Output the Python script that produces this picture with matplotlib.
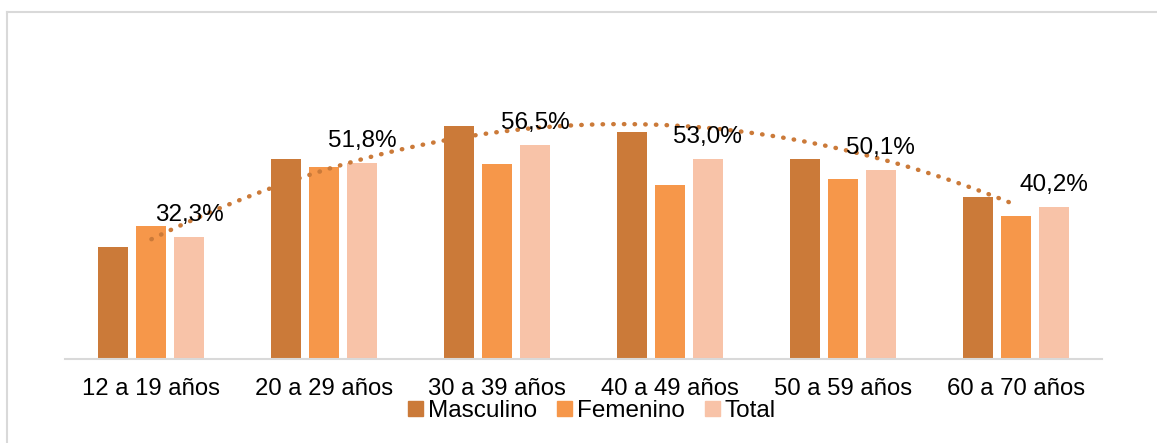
import numpy as np
import matplotlib
matplotlib.use("Agg")
import matplotlib.pyplot as plt
from matplotlib.lines import Line2D

categories = ["12 a 19 años", "20 a 29 años", "30 a 39 años", "40 a 49 años", "50 a 59 años", "60 a 70 años"]
masculino = [29.6, 52.8, 61.7, 60.0, 52.8, 42.7]
femenino = [35.1, 50.9, 51.7, 46.1, 47.5, 37.8]
total = [32.3, 51.8, 56.5, 53.0, 50.1, 40.2]
total_labels = ["32,3%", "51,8%", "56,5%", "53,0%", "50,1%", "40,2%"]
series_names = ["Masculino", "Femenino", "Total"]

colors = ["#CB7A39", "#F6974A", "#F8C3A8"]

plt.rcParams['font.family'] = ['Liberation Sans', 'DejaVu Sans']

W, H = 1157, 443
fig = plt.figure(figsize=(W / 100, H / 100), dpi=100)
ax_left, ax_right = 65, 1102
base_y, scale = 358.5, 3.771
ymax = 80
ax = fig.add_axes([ax_left / W, (H - base_y) / H, (ax_right - ax_left) / W, ymax * scale / H])

x = np.arange(len(categories))
bw = 30 / 173
step = 38 / 173
for i, (vals, c, name) in enumerate(zip([masculino, femenino, total], colors, series_names)):
    ax.bar(x + (i - 1) * step, vals, width=bw, color=c, label=name, zorder=2)

# labels above Total bars
for xi, v, lab in zip(x, total, total_labels):
    ax.annotate(lab, (xi + step, v), xytext=(0, 11.5), textcoords="offset points",
                ha="center", va="baseline", fontsize=17.5, color="black", zorder=4)

# polynomial trendline (order 2) of Masculino
coef = np.polyfit(x + 1, masculino, 2)
xt = np.linspace(1, len(categories), 200)
ax.plot(xt - 1, np.polyval(coef, xt), linestyle=(0, (0.1, 2.3)), dash_capstyle="round",
        color=colors[0], linewidth=3.2, zorder=3)

ax.set_xlim(-0.5, len(categories) - 0.5)
ax.set_ylim(0, ymax)
ax.set_xticks(x)
ax.set_xticklabels(categories, fontsize=17.2)
ax.tick_params(axis="x", length=0, pad=14)
ax.set_yticks([])
for s in ["top", "right", "left"]:
    ax.spines[s].set_visible(False)
ax.spines["bottom"].set_color("#D9D9D9")
ax.spines["bottom"].set_linewidth(1.5)

handles = [plt.Rectangle((0, 0), 1, 1, color=c) for c in colors]
fig.legend(handles, series_names, loc="center", bbox_to_anchor=(592 / W, (H - 411) / H),
           ncol=3, frameon=False, fontsize=17.5, handlelength=0.6, handleheight=0.6,
           handletextpad=0.2, columnspacing=0.85, borderpad=0)

# chart border (left and top visible)
fig.add_artist(Line2D([6.5 / W, 6.5 / W], [0, (H - 11.5) / H], color="#D9D9D9", linewidth=1.5,
                      transform=fig.transFigure))
fig.add_artist(Line2D([6.5 / W, 1], [(H - 11.5) / H, (H - 11.5) / H], color="#D9D9D9", linewidth=1.5,
                      transform=fig.transFigure))

fig.savefig("out.png", dpi=100)
